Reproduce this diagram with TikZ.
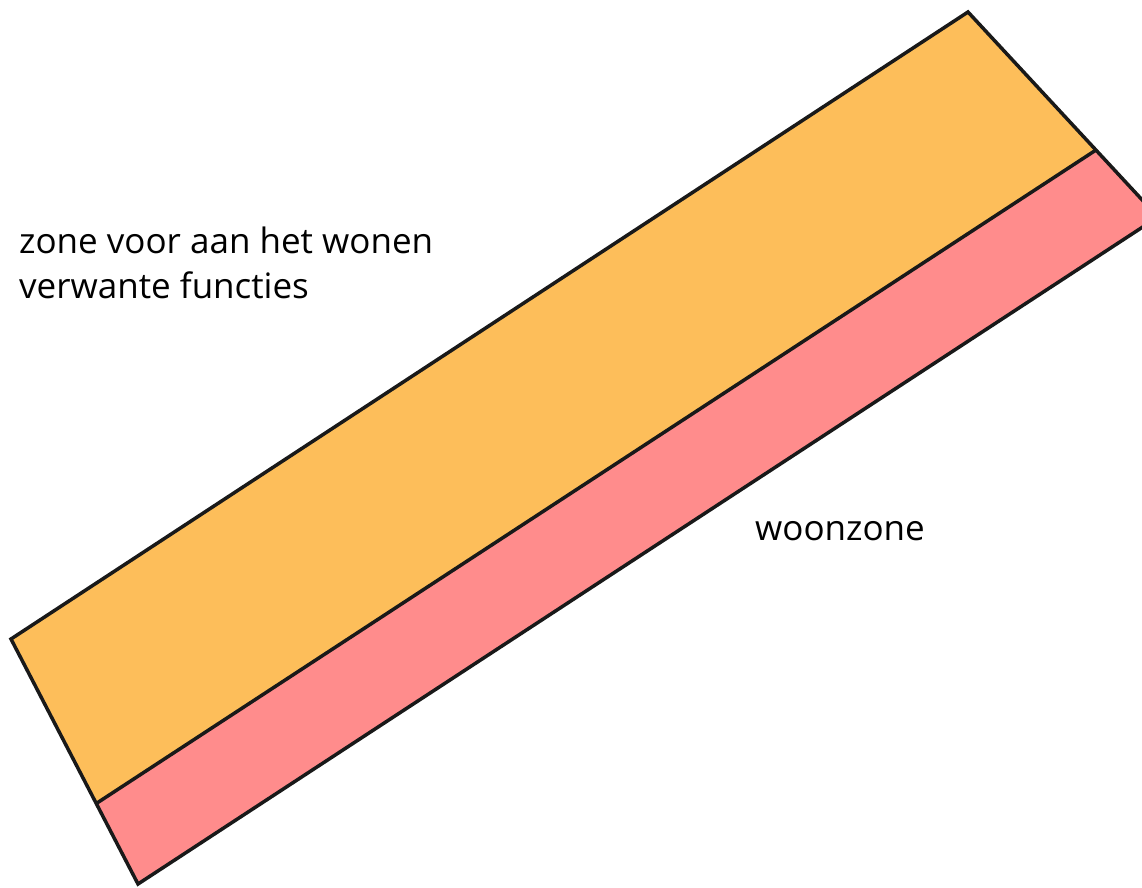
\documentclass[tikz,border=0pt]{standalone}
\usepackage{fontspec}
\setmainfont{Open Sans}
\definecolor{zoneorange}{HTML}{FDBE5A}
\definecolor{zonepink}{HTML}{FF8C8C}
\begin{document}
\begin{tikzpicture}[x=1pt,y=-1pt,
  outline/.style={draw=black!90,line width=3.5pt,line join=miter},
  lbl/.style={font=\fontsize{35}{45}\selectfont,inner sep=0pt,anchor=base west,align=left}]
\useasboundingbox (0,0) rectangle (1142,887);
\clip (0,0) rectangle (1142,887);
\coordinate (T) at (968,12);
\coordinate (L) at (11,639);
\coordinate (DL) at (97,803);
\coordinate (DR) at (1096,150);
\coordinate (R) at (1158,217);
\coordinate (B) at (138,884);
\fill[zoneorange] (T) -- (L) -- (DL) -- (DR) -- cycle;
\fill[zonepink] (DL) -- (DR) -- (R) -- (B) -- cycle;
\draw[outline] (DL) -- (DR);
\draw[outline] (T) -- (L) -- (B) -- (R) -- cycle;
\node[lbl] (zone1) at (19,298) {zone voor aan het wonen\\verwante functies};
\node[lbl] (zone2) at (755,540) {woonzone};
\end{tikzpicture}
\end{document}
